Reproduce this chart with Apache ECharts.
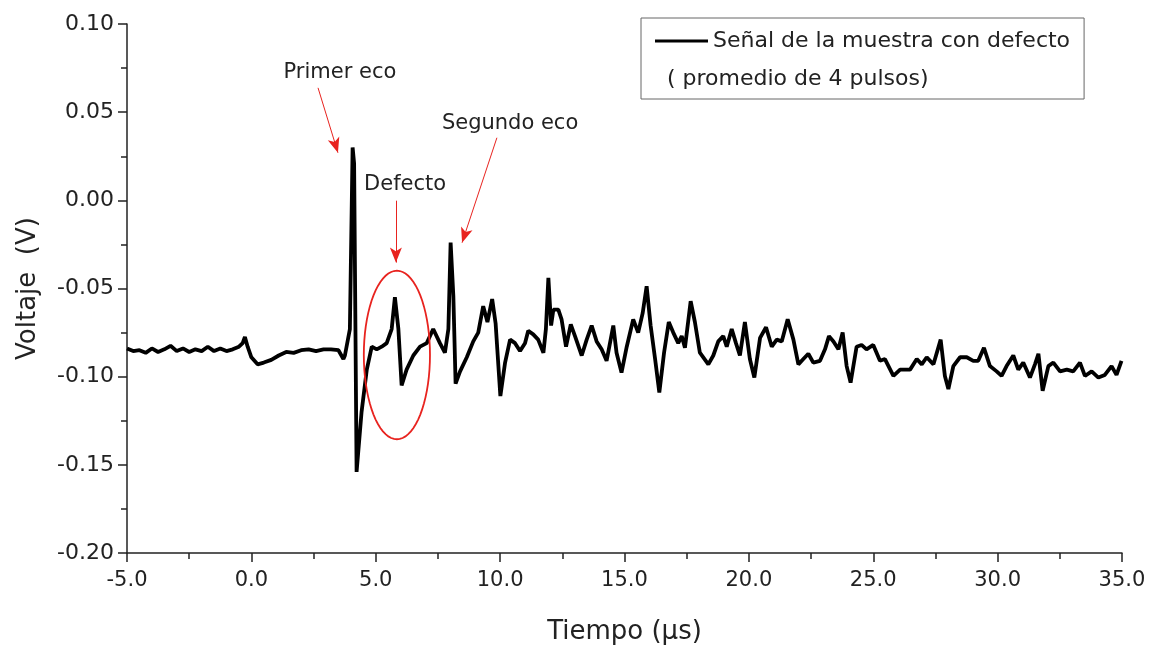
<!DOCTYPE html>
<html>
<head>
<meta charset="utf-8">
<script src="https://cdn.jsdelivr.net/npm/echarts@6/dist/echarts.min.js"></script>
<style>
  html, body { margin: 0; padding: 0; background: #fff; }
  #chart { width: 1158px; height: 650px; }
</style>
</head>
<body>
<div id="chart"></div>
<script>
// tiempo (us)
var tiempo = [-5.0, -4.75, -4.5, -4.25, -4.0, -3.75, -3.5, -3.25, -3.0, -2.75, -2.5, -2.25, -2.0, -1.75, -1.5, -1.25, -1.0, -0.75, -0.5, -0.35, -0.26, -0.15,
  0.0, 0.25, 0.5, 0.8, 1.1, 1.4, 1.7, 2.0, 2.3, 2.6, 2.9, 3.2, 3.5, 3.70, 3.76, 3.96, 4.07, 4.13, 4.23, 4.43, 4.64, 4.84,
  5.04, 5.24, 5.44, 5.64, 5.77, 5.91, 6.04, 6.24, 6.51, 6.78, 7.05, 7.31, 7.58, 7.78, 7.92, 8.01, 8.12, 8.21, 8.39, 8.66, 8.92,
  9.12, 9.32, 9.49, 9.68, 9.82, 10.01, 10.20, 10.40, 10.60, 10.80, 11.00, 11.13, 11.33, 11.53, 11.74, 11.84, 11.94, 12.05, 12.14,
  12.34, 12.47, 12.65, 12.84, 13.01, 13.28, 13.48, 13.68, 13.88, 14.08, 14.28, 14.55, 14.68, 14.88, 15.09, 15.35, 15.55, 15.73,
  15.89, 16.05, 16.23, 16.40, 16.59, 16.78, 16.96, 17.16, 17.30, 17.43, 17.66, 17.83, 18.03, 18.37, 18.57, 18.77, 18.97, 19.11,
  19.31, 19.48, 19.64, 19.84, 20.04, 20.22, 20.45, 20.69, 20.92, 21.12, 21.32, 21.56, 21.79, 21.99, 22.19, 22.39, 22.59, 22.86,
  23.06, 23.22, 23.40, 23.60, 23.77, 23.93, 24.09, 24.33, 24.53, 24.73, 25.00, 25.27, 25.47, 25.81, 26.08, 26.48, 26.75, 26.95,
  27.15, 27.42, 27.71, 27.88, 28.02, 28.22, 28.49, 28.76, 29.02, 29.22, 29.45, 29.69, 29.96, 30.16, 30.36, 30.63, 30.83, 31.03,
  31.30, 31.50, 31.64, 31.81, 32.04, 32.24, 32.51, 32.78, 33.04, 33.31, 33.51, 33.78, 34.05, 34.31, 34.58, 34.78, 34.98];

// voltaje (V)
var voltaje = [-0.084, -0.0855, -0.085, -0.0865, -0.084, -0.086, -0.0845, -0.0825, -0.0855, -0.084, -0.086, -0.0845, -0.0855, -0.083, -0.0855, -0.084, -0.0855, -0.0845, -0.083, -0.081, -0.0775, -0.083,
  -0.089, -0.093, -0.092, -0.0905, -0.088, -0.086, -0.0865, -0.085, -0.0845, -0.0855, -0.0845, -0.0845, -0.085, -0.090, -0.088, -0.073, 0.030, 0.021, -0.154, -0.120, -0.096, -0.083,
  -0.0845, -0.083, -0.081, -0.073, -0.055, -0.073, -0.105, -0.096, -0.088, -0.083, -0.081, -0.073, -0.081, -0.0864, -0.073, -0.024, -0.0544, -0.104, -0.097, -0.089, -0.080,
  -0.075, -0.060, -0.069, -0.056, -0.070, -0.111, -0.092, -0.079, -0.081, -0.0855, -0.081, -0.074, -0.076, -0.079, -0.0864, -0.073, -0.044, -0.071, -0.062,
  -0.062, -0.0675, -0.083, -0.0704, -0.077, -0.088, -0.079, -0.071, -0.080, -0.0845, -0.091, -0.071, -0.0864, -0.0977, -0.083, -0.0675, -0.075, -0.064,
  -0.0487, -0.071, -0.090, -0.109, -0.0864, -0.069, -0.075, -0.081, -0.077, -0.0836, -0.0572, -0.069, -0.0864, -0.093, -0.088, -0.080, -0.077, -0.083,
  -0.073, -0.081, -0.088, -0.069, -0.090, -0.1005, -0.078, -0.072, -0.083, -0.079, -0.080, -0.0675, -0.079, -0.093, -0.090, -0.087, -0.092, -0.091,
  -0.0845, -0.077, -0.080, -0.0845, -0.075, -0.094, -0.1034, -0.083, -0.082, -0.0845, -0.082, -0.091, -0.090, -0.0996, -0.096, -0.096, -0.090, -0.093,
  -0.089, -0.093, -0.079, -0.0996, -0.107, -0.094, -0.089, -0.089, -0.091, -0.091, -0.0836, -0.094, -0.097, -0.0996, -0.094, -0.088, -0.096, -0.092,
  -0.1005, -0.093, -0.087, -0.108, -0.094, -0.092, -0.097, -0.096, -0.097, -0.092, -0.0996, -0.097, -0.1005, -0.099, -0.094, -0.099, -0.091];

// anotaciones (coordenadas de datos)
var etiquetas = ['Primer eco', 'Defecto', 'Segundo eco'];
var etiquetaPos = [[3.56, 0.0725], [6.18, 0.009], [10.4, 0.0434]];
var flechaDesde = [[2.68, 0.0638], [5.81, -0.0002], [9.87, 0.0355]];
var flechaHasta = [[3.48, 0.027], [5.81, -0.0353], [8.47, -0.024]];
// elipse del defecto: centro y semiejes
var elipseCentro = [5.85, -0.0877];
var elipseRadio = [1.33, 0.0478];

var serie = tiempo.map(function (t, i) { return [t, voltaje[i]]; });

var chart = echarts.init(document.getElementById('chart'));
var fuente = 'DejaVu Sans, Liberation Sans, Arial, sans-serif';

var option = {
  animation: false,
  backgroundColor: '#fff',
  grid: { left: 127, right: 36, top: 24, bottom: 96 },
  legend: {
    left: 641, top: 18,
    padding: [12, 14, 47, 14],
    borderColor: '#666', borderWidth: 1,
    itemWidth: 53, itemHeight: 3, itemGap: 0,
    icon: 'rect',
    textStyle: { fontSize: 22, color: '#222', fontFamily: fuente, padding: [0, 0, 0, 0] },
    data: ['Señal de la muestra con defecto']
  },
  xAxis: {
    type: 'value', min: -5, max: 35, interval: 5,
    name: 'Tiempo (\u03BCs)', nameLocation: 'middle', nameGap: 66,
    nameTextStyle: { fontSize: 26, color: '#222', fontFamily: fuente },
    axisLine: { onZero: false, lineStyle: { color: '#222', width: 1.5 } },
    axisTick: { show: true, length: 9, lineStyle: { color: '#222', width: 1.5 } },
    minorTick: { show: true, splitNumber: 2, length: 6, lineStyle: { color: '#222', width: 1.5 } },
    splitLine: { show: false },
    axisLabel: { fontSize: 21, color: '#222', margin: 17, fontFamily: fuente,
      formatter: function (v) { return v.toFixed(1); } }
  },
  yAxis: {
    type: 'value', min: -0.20, max: 0.10, interval: 0.05,
    name: 'Voltaje  (V)', nameLocation: 'middle', nameGap: 86, nameRotate: 90,
    nameTextStyle: { fontSize: 26, color: '#222', fontFamily: fuente },
    axisLine: { show: true, onZero: false, lineStyle: { color: '#222', width: 1.5 } },
    axisTick: { show: true, length: 9, lineStyle: { color: '#222', width: 1.5 } },
    minorTick: { show: true, splitNumber: 2, length: 6, lineStyle: { color: '#222', width: 1.5 } },
    splitLine: { show: false },
    axisLabel: { fontSize: 22, color: '#222', margin: 13, fontFamily: fuente,
      formatter: function (v) { return v.toFixed(2); } }
  },
  series: [{
    name: 'Señal de la muestra con defecto',
    type: 'line',
    data: serie,
    showSymbol: false,
    color: '#000',
    lineStyle: { color: '#000', width: 3.8 },
    markPoint: {
      symbol: 'circle', symbolSize: 0, silent: true,
      label: { show: true, position: 'inside', formatter: '{b}', fontSize: 21, color: '#222', fontFamily: fuente },
      data: etiquetas.map(function (e, i) { return { name: e, coord: etiquetaPos[i] }; })
    },
    markLine: {
      silent: true, animation: false,
      symbol: ['none', 'arrow'], symbolSize: [9, 15],
      lineStyle: { color: '#e8231f', width: 1, type: 'solid' },
      label: { show: false },
      data: flechaDesde.map(function (d, i) { return [{ coord: d }, { coord: flechaHasta[i] }]; })
    }
  }]
};
chart.setOption(option);

// elipse alrededor del defecto y segunda linea de la leyenda
var c = chart.convertToPixel({ gridIndex: 0 }, elipseCentro);
var e = chart.convertToPixel({ gridIndex: 0 }, [elipseCentro[0] + elipseRadio[0], elipseCentro[1] + elipseRadio[1]]);
var rx = Math.abs(e[0] - c[0]), ry = Math.abs(e[1] - c[1]);
var pts = [];
for (var k = 0; k < 72; k++) {
  var a = k / 72 * Math.PI * 2;
  pts.push([c[0] + rx * Math.cos(a), c[1] + ry * Math.sin(a)]);
}
chart.setOption({
  graphic: [{
    type: 'text', left: 667, top: 68,
    style: { text: '( promedio de 4 pulsos)', fontSize: 22, fill: '#222', fontFamily: fuente }
  }, {
    type: 'polygon', shape: { points: pts }, z: 10,
    style: { fill: 'none', stroke: '#e8231f', lineWidth: 1.8 }
  }]
});
</script>
</body>
</html>
